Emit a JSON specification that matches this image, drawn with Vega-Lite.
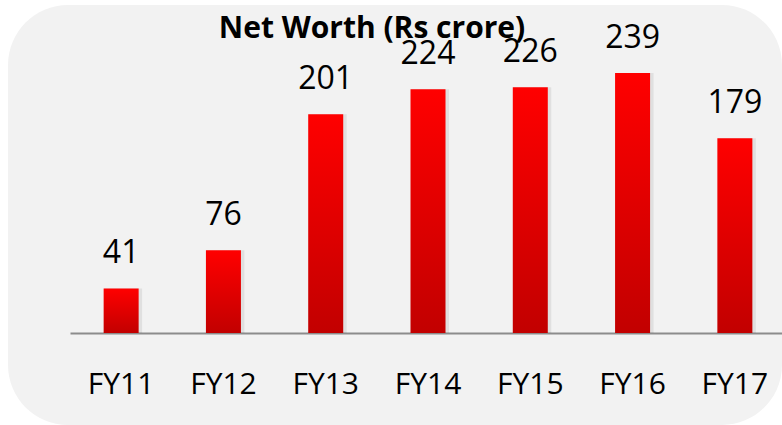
{
  "$schema": "https://vega.github.io/schema/vega-lite/v6.json",
  "width": 774,
  "height": 420,
  "autosize": {"type": "none"},
  "padding": {"left": 8, "top": 5, "right": 0, "bottom": 0},
  "background": "#ffffff",
  "view": {"fill": "#f2f2f2", "stroke": null, "cornerRadius": 60},
  "title": {
    "text": "Net Worth (Rs crore)",
    "font": "Open Sans",
    "fontWeight": "bold",
    "fontSize": 30,
    "color": "#000000",
    "anchor": "middle",
    "baseline": "alphabetic",
    "offset": 0,
    "dy": 63,
    "dx": -23
  },
  "data": {
    "values": [
      {"year": "FY11", "value": 41},
      {"year": "FY12", "value": 76},
      {"year": "FY13", "value": 201},
      {"year": "FY14", "value": 224},
      {"year": "FY15", "value": 226},
      {"year": "FY16", "value": 239},
      {"year": "FY17", "value": 179}
    ]
  },
  "encoding": {
    "x": {
      "field": "year",
      "type": "ordinal",
      "sort": null,
      "scale": {"range": [62, 778], "paddingInner": 0, "paddingOuter": 0},
      "axis": {
        "title": null,
        "orient": "bottom",
        "offset": -92,
        "ticks": false,
        "tickSize": 0,
        "domainColor": "#8c8c8c",
        "domainWidth": 2,
        "labelFont": "Open Sans",
        "labelFontSize": 30,
        "labelColor": "#000000",
        "labelAngle": 0,
        "labelBaseline": "alphabetic",
        "labelPadding": 60,
        "grid": false
      }
    },
    "y": {
      "field": "value",
      "type": "quantitative",
      "scale": {"domain": [0, 239], "range": [328, 68], "zero": true, "nice": false},
      "axis": null
    }
  },
  "layer": [
    {
      "mark": {"type": "bar", "size": 38, "color": "#000000", "opacity": 0.07, "xOffset": 2}
    },
    {
      "mark": {
        "type": "bar",
        "size": 35,
        "color": {
          "gradient": "linear",
          "x1": 0, "y1": 0, "x2": 0, "y2": 1,
          "stops": [
            {"offset": 0, "color": "#ff0000"},
            {"offset": 1, "color": "#c20000"}
          ]
        }
      }
    },
    {
      "mark": {
        "type": "text",
        "font": "Open Sans",
        "fontSize": 32,
        "color": "#000000",
        "baseline": "alphabetic",
        "dy": -25
      },
      "encoding": {"text": {"field": "value", "type": "quantitative"}}
    }
  ]
}
